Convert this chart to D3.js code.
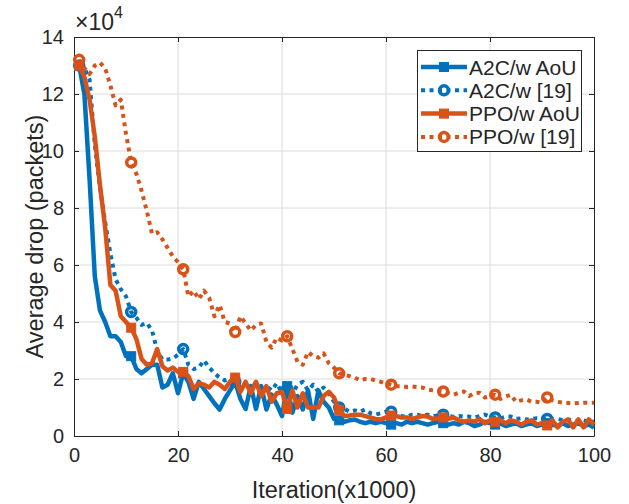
<!DOCTYPE html>
<html>
<head>
<meta charset="utf-8">
<script src="https://cdn.jsdelivr.net/npm/d3@7"></script>
<style>
body { margin: 0; background: #fff; }
text { font-family: "Liberation Sans", Arial, sans-serif; fill: #262626; }
</style>
</head>
<body>
<svg id="chart" width="629" height="504"></svg>
<script>
// iteration index (x1000)
var iterations = d3.range(1, 101);

// average drop, in units of 1e4 packets
var a2cAoU = [13.0, 12.0, 9.0, 5.6, 4.4, 4.0, 3.5, 3.5, 3.3, 2.8,
    2.8, 2.35, 2.2, 2.35, 2.5, 2.5, 1.7, 1.8, 2.2, 1.5,
    2.2, 1.9, 1.3, 1.9, 1.65, 1.4, 1.15, 0.93, 1.3, 1.6,
    1.9, 1.3, 0.95, 1.75, 0.95, 1.75, 0.93, 1.45, 1.1, 0.7,
    1.75, 0.82, 1.4, 0.93, 1.6, 0.6, 1.6, 1.2, 1.0, 0.6,
    0.55, 0.5, 0.55, 0.58, 0.5, 0.45, 0.5, 0.45, 0.5, 0.45,
    0.4, 0.45, 0.4, 0.5, 0.45, 0.5, 0.45, 0.4, 0.45, 0.5,
    0.45, 0.4, 0.45, 0.4, 0.5, 0.45, 0.35, 0.4, 0.5, 0.45,
    0.4, 0.45, 0.35, 0.4, 0.45, 0.35, 0.4, 0.45, 0.35, 0.4,
    0.45, 0.4, 0.35, 0.45, 0.35, 0.4, 0.45, 0.35, 0.4, 0.3];

var a2cRef = [13.0, 12.9, 12.5, 10.2, 8.7, 7.5, 6.4, 5.5, 5.15, 4.9,
    4.35, 4.15, 3.9, 3.97, 3.7, 3.0, 2.68, 2.68, 2.72, 2.85,
    3.05, 2.5, 2.35, 2.4, 2.65, 2.4, 2.2, 2.05, 1.95, 2.0,
    1.9, 1.7, 1.85, 1.6, 1.9, 1.55, 1.75, 1.6, 1.85, 1.5,
    1.65, 1.5, 1.8, 1.9, 1.6, 1.8, 1.55, 1.7, 1.5, 1.2,
    1.0, 0.95, 0.85, 0.9, 0.85, 0.93, 0.8, 0.75, 0.8, 0.85,
    0.85, 0.75, 0.7, 0.68, 0.75, 0.75, 0.7, 0.75, 0.7, 0.72,
    0.75, 0.7, 0.68, 0.7, 0.68, 0.68, 0.65, 0.7, 0.75, 0.68,
    0.65, 0.62, 0.68, 0.68, 0.6, 0.62, 0.58, 0.6, 0.62, 0.6,
    0.6, 0.58, 0.6, 0.55, 0.58, 0.55, 0.52, 0.55, 0.5, 0.5];

var ppoAoU = [13.0, 12.6, 11.8, 10.5, 8.8, 7.3, 5.3, 5.1, 4.2, 4.0,
    3.8, 3.4, 2.7, 2.5, 2.55, 3.05, 2.45, 2.3, 2.4, 2.25,
    2.25, 2.1, 1.65, 1.85, 1.8, 1.7, 1.9, 1.8, 1.65, 1.9,
    2.05, 1.55, 1.9, 1.5, 1.9, 1.4, 1.75, 1.2, 1.5, 1.55,
    0.95, 1.6, 1.0, 1.5, 1.0, 1.0, 1.0, 1.4, 1.55, 1.35,
    0.9, 0.7, 0.72, 0.75, 0.75, 0.7, 0.65, 0.6, 0.58, 0.65,
    0.72, 0.7, 0.65, 0.65, 0.6, 0.65, 0.7, 0.68, 0.6, 0.62,
    0.65, 0.6, 0.65, 0.55, 0.5, 0.55, 0.5, 0.6, 0.45, 0.55,
    0.5, 0.55, 0.45, 0.55, 0.5, 0.4, 0.5, 0.55, 0.4, 0.45,
    0.37, 0.55, 0.3, 0.5, 0.58, 0.3, 0.58, 0.3, 0.58, 0.4];

var ppoRef = [13.2, 12.9, 12.7, 13.0, 13.1, 12.9, 12.3, 11.6, 11.8, 10.6,
    9.6, 9.2, 8.6, 7.9, 7.1, 7.15, 6.9, 6.6, 6.3, 6.1,
    5.85, 4.9, 5.1, 4.8, 5.1, 4.85, 4.2, 4.6, 4.0, 3.95,
    3.65, 4.2, 3.95, 3.7, 3.9, 3.95, 3.3, 3.1, 3.45, 3.35,
    3.5, 3.05, 2.6, 2.5, 2.95, 2.8, 2.75, 2.9, 2.55, 2.4,
    2.2, 2.15, 2.1, 2.05, 1.95, 2.0, 2.0, 1.95, 1.9, 1.85,
    1.8, 1.75, 1.75, 1.72, 1.74, 1.72, 1.7, 1.63, 1.6, 1.58,
    1.56, 1.5, 1.45, 1.52, 1.56, 1.4, 1.5, 1.52, 1.35, 1.4,
    1.45, 1.3, 1.38, 1.45, 1.2, 1.25, 1.28, 1.2, 1.2, 1.17,
    1.35, 1.25, 1.2, 1.17, 1.16, 1.14, 1.16, 1.17, 1.16, 1.17];

var seriesNames = ["A2C/w AoU", "A2C/w [19]", "PPO/w AoU", "PPO/w [19]"];
var xTicks = [0, 20, 40, 60, 80, 100];
var yTicks = [0, 2, 4, 6, 8, 10, 12, 14];

var series = [
    {name: seriesNames[0], values: a2cAoU, color: "#0072BD", dotted: false, marker: "square"},
    {name: seriesNames[1], values: a2cRef, color: "#0072BD", dotted: true, marker: "circle"},
    {name: seriesNames[2], values: ppoAoU, color: "#D95319", dotted: false, marker: "square"},
    {name: seriesNames[3], values: ppoRef, color: "#D95319", dotted: true, marker: "circle"}
];

var svg = d3.select("#chart");
var pLeft = 74, pRight = 594, pTop = 37, pBottom = 436;

var x = d3.scaleLinear().domain([0, 100]).range([pLeft, pRight]);
var y = d3.scaleLinear().domain([0, 14]).range([pBottom, pTop]);

// grid
svg.append("g").selectAll("line").data(xTicks.slice(1, -1)).enter().append("line")
    .attr("x1", d => x(d)).attr("x2", d => x(d)).attr("y1", pTop).attr("y2", pBottom)
    .attr("stroke", "#dcdcdc").attr("stroke-width", 1);
svg.append("g").selectAll("line").data(yTicks.slice(1, -1)).enter().append("line")
    .attr("y1", d => y(d)).attr("y2", d => y(d)).attr("x1", pLeft).attr("x2", pRight)
    .attr("stroke", "#dcdcdc").attr("stroke-width", 1);

// axes (ticks inside, box on)
function styleAxis(g) {
    g.select(".domain").attr("stroke", "#262626");
    g.selectAll(".tick line").attr("stroke", "#262626");
    g.selectAll("text").style("font-size", "20px").attr("fill", "#262626");
}
svg.append("g").attr("transform", "translate(0," + pBottom + ")")
    .call(d3.axisBottom(x).tickValues(xTicks).tickSizeInner(-5).tickSizeOuter(0).tickPadding(12))
    .call(styleAxis);
svg.append("g").attr("transform", "translate(" + pLeft + ",0)")
    .call(d3.axisLeft(y).tickValues(yTicks).tickSizeInner(-5).tickSizeOuter(0).tickPadding(10))
    .call(styleAxis);
svg.append("g").attr("transform", "translate(0," + pTop + ")")
    .call(d3.axisTop(x).tickValues(xTicks).tickSizeInner(-5).tickSizeOuter(0).tickFormat(""))
    .call(styleAxis);
svg.append("g").attr("transform", "translate(" + pRight + ",0)")
    .call(d3.axisRight(y).tickValues(yTicks).tickSizeInner(-5).tickSizeOuter(0).tickFormat(""))
    .call(styleAxis);

// exponent
var expo = svg.append("text").attr("x", pLeft + 1).attr("y", 30).style("font-size", "23px");
expo.append("tspan").text("\u00d710");
expo.append("tspan").attr("dy", -12).style("font-size", "16px").text("4");

// axis labels
svg.append("text").attr("x", (pLeft + pRight) / 2).attr("y", 498)
    .attr("text-anchor", "middle").style("font-size", "23.5px").text("Iteration(x1000)");
svg.append("text").attr("transform", "translate(43," + (pTop + pBottom) / 2 + ") rotate(-90)")
    .attr("text-anchor", "middle").style("font-size", "23.5px").text("Average drop (packets)");

// lines
var line = d3.line().x((d, i) => x(iterations[i])).y(d => y(d));
var plot = svg.append("g");

function drawMarker(g, type, cx, cy, color) {
    if (type === "square") {
        g.append("rect").attr("x", cx - 4.5).attr("y", cy - 4.5).attr("width", 9).attr("height", 9)
            .attr("fill", color).attr("stroke", color).attr("stroke-width", 1);
    } else {
        g.append("circle").attr("cx", cx).attr("cy", cy).attr("r", 4.5)
            .attr("fill", "none").attr("stroke", color).attr("stroke-width", 3.5);
    }
}

series.forEach(function(s) {
    plot.append("path").datum(s.values)
        .attr("d", line)
        .attr("fill", "none")
        .attr("stroke", s.color)
        .attr("stroke-width", s.dotted ? 4 : 4.5)
        .attr("stroke-linejoin", "round")
        .attr("stroke-dasharray", s.dotted ? "4,4.5" : null);
    var mg = plot.append("g");
    s.values.forEach(function(v, i) {
        if (i % 10 === 0) drawMarker(mg, s.marker, x(iterations[i]), y(v), s.color);
    });
});

// legend
var lg = svg.append("g");
lg.append("rect").attr("x", 417.5).attr("y", 50.5).attr("width", 164).attr("height", 101)
    .attr("fill", "#fff").attr("stroke", "#262626").attr("stroke-width", 1);
series.forEach(function(s, i) {
    var ly = 67 + i * 23.3;
    lg.append("line").attr("x1", 421).attr("x2", 467).attr("y1", ly).attr("y2", ly)
        .attr("stroke", s.color).attr("stroke-width", s.dotted ? 4 : 4.5)
        .attr("stroke-dasharray", s.dotted ? "4,4.5" : null);
    drawMarker(lg, s.marker, 444, ly, s.color);
    lg.append("text").attr("x", 469).attr("y", ly + 7.5).style("font-size", "21px").text(s.name);
});
</script>
</body>
</html>
